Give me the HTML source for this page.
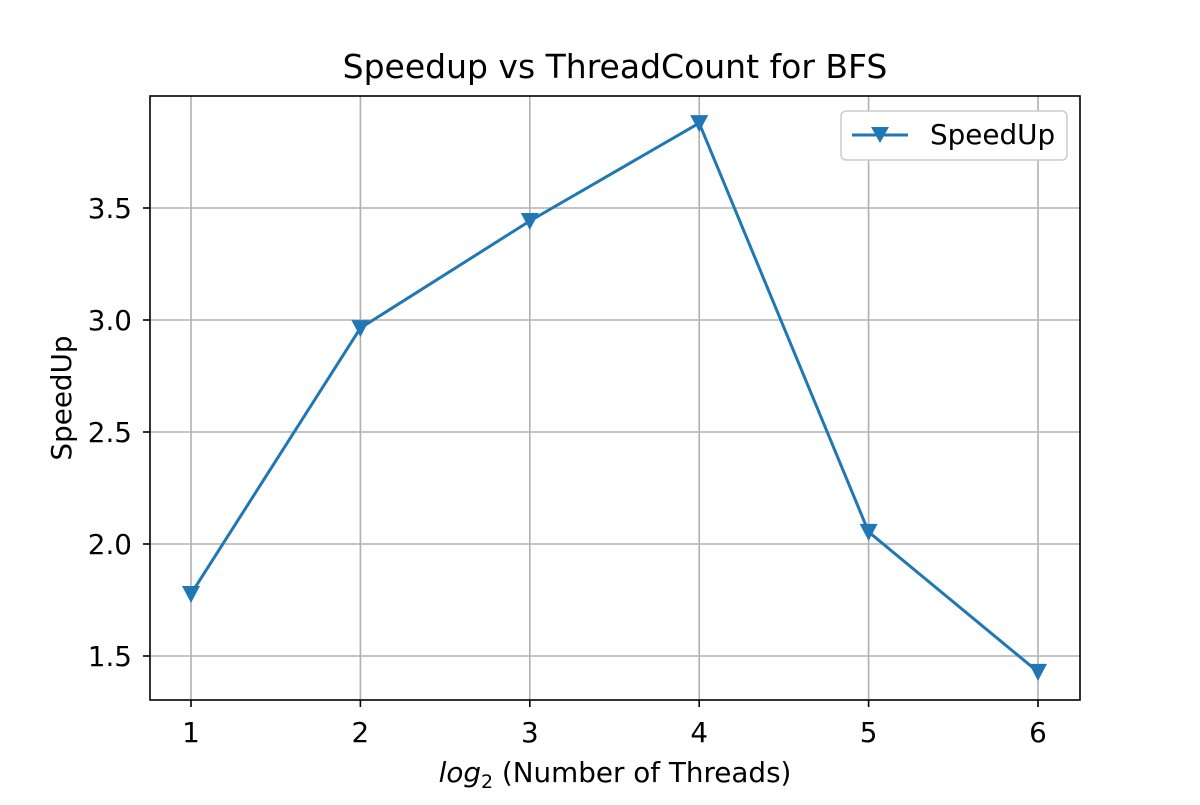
<!DOCTYPE html>
<html><head><meta charset="utf-8"><style>
body{margin:0;background:#fff;}
svg text{font-family:"DejaVu Sans","Liberation Sans",sans-serif;fill:#000;}
</style></head><body>
<svg width="1200" height="800" viewBox="0 0 1200 800">
<rect width="1200" height="800" fill="#fff"/>
<g id="grid"></g>
<g id="ticks"></g>
<g id="series"></g>
<rect x="150" y="96" width="930" height="604" fill="none" stroke="#000" stroke-width="1.6"/>
<text x="615" y="78" font-size="33" text-anchor="middle">Speedup vs ThreadCount for BFS</text>
<text x="615" y="782" font-size="27.8" text-anchor="middle"><tspan font-style="italic">log</tspan><tspan font-size="19" dy="6">2</tspan><tspan dy="-6"> (Number of Threads)</tspan></text>
<text transform="translate(71,398) rotate(-90)" font-size="27.8" text-anchor="middle">SpeedUp</text>
<g>
<rect x="841" y="111" width="226" height="49" rx="5" fill="#fff" stroke="#ccc" stroke-width="1.5"/>
<line x1="852" y1="135" x2="908" y2="135" stroke="#1f77b4" stroke-width="3"/>
<polygon points="871,127 889,127 880,143" fill="#1f77b4"/>
<text x="930" y="144" font-size="27.8">SpeedUp</text>
</g>
</svg>
<script>
const xValues=[1,2,3,4,5,6];
const speedup=[1.777,2.964,3.442,3.879,2.054,1.429];
const xTicks=[1,2,3,4,5,6];
const yTicks=[1.5,2.0,2.5,3.0,3.5];
const yTickLabels=["1.5","2.0","2.5","3.0","3.5"];
const NS="http://www.w3.org/2000/svg";
function X(v){return 191+(v-1)*169.4;}
function Y(v){return 656-(v-1.5)*224;}
function mk(t,a,p){const e=document.createElementNS(NS,t);for(const k in a)e.setAttribute(k,a[k]);p.appendChild(e);return e;}
const grid=document.getElementById('grid'),ticks=document.getElementById('ticks'),ser=document.getElementById('series');
xTicks.forEach(v=>{
 const g=mk('line',{x1:X(v),x2:X(v),y1:96,y2:700,stroke:'#b0b0b0','stroke-width':1.6},grid);
 
 
 const t=mk('line',{x1:X(v),x2:X(v),y1:700,y2:707,stroke:'#000','stroke-width':1.6},ticks);
 
 
 const l=mk('text',{x:X(v),y:742,'font-size':27.8,'text-anchor':'middle'},ticks);l.textContent=v;
 
 
});
yTicks.forEach((v,i)=>{
 const g=mk('line',{x1:150,x2:1080,y1:Y(v),y2:Y(v),stroke:'#b0b0b0','stroke-width':1.6},grid);
 
 
 const t=mk('line',{x1:143,x2:150,y1:Y(v),y2:Y(v),stroke:'#000','stroke-width':1.6},ticks);
 
 
 const l=mk('text',{x:132,y:Y(v)+10,'font-size':27.8,'text-anchor':'end'},ticks);l.textContent=yTickLabels[i];
 
 
});
const pts=xValues.map((x,i)=>X(x)+','+Y(speedup[i])).join(' ');
const line=mk('polyline',{points:pts,fill:'none',stroke:'#1f77b4','stroke-width':3},ser);


xValues.forEach((x,i)=>{
 const cx=X(x),cy=Y(speedup[i]);
 const m=mk('polygon',{points:`${cx-9},${cy-8} ${cx+9},${cy-8} ${cx},${cy+9}`,fill:'#1f77b4'},ser);
 
 
});
</script>
</body></html>
